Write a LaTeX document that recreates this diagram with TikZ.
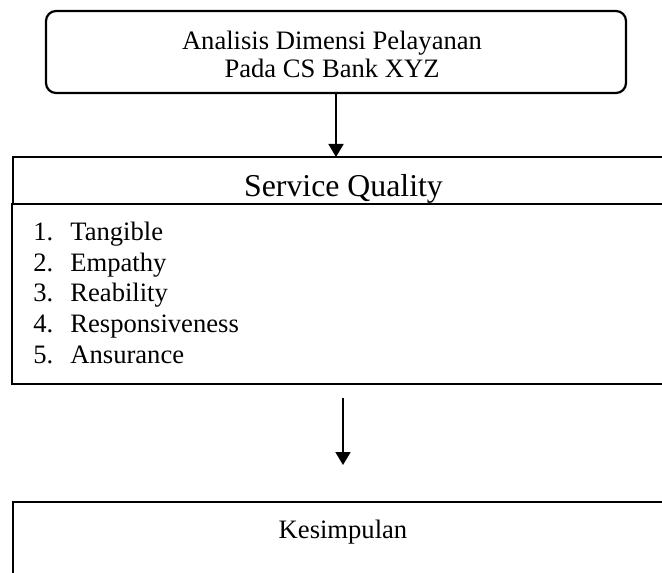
\documentclass[tikz,border=0pt]{standalone}
\usepackage{fontspec}
\setmainfont{Liberation Serif}
\usetikzlibrary{arrows.meta}
\begin{document}
\begin{tikzpicture}[x=0.5pt,y=-0.5pt,
  frame/.style={draw=black,line width=1.1pt,inner sep=0pt,outer sep=0pt},
  txt/.style={inner sep=0pt,font=\fontsize{13.3}{16}\selectfont},
  hdrtxt/.style={inner sep=0pt,font=\fontsize{15.9}{19}\selectfont},
  conn/.style={line width=0.9pt,-{Triangle[length=6.5pt,width=7.5pt]}}]
\useasboundingbox (0,0) rectangle (662,572);
% top rounded box
\node[frame,rounded corners=5pt,minimum width=290pt,minimum height=41pt] (top) at (336,52) {};
\node[txt,anchor=base] (t1) at (332,50) {Analisis Dimensi Pelayanan};
\node[txt,anchor=base] (t2) at (332,78) {Pada CS Bank XYZ};
% header
\node[frame,minimum width=326pt,minimum height=23.5pt] (hdr) at (339,180.5) {};
\node[hdrtxt,anchor=base] (hdrt) at (343.5,196) {Service Quality};
% list box
\node[frame,minimum width=326.5pt,minimum height=90pt] (list) at (338.5,294) {};
\node[txt,anchor=base west] (n1) at (33,240) {1.};
\node[txt,anchor=base west] (i1) at (70,240) {Tangible};
\node[txt,anchor=base west] (n2) at (33,271) {2.};
\node[txt,anchor=base west] (i2) at (70,271) {Empathy};
\node[txt,anchor=base west] (n3) at (33,301) {3.};
\node[txt,anchor=base west] (i3) at (70,301) {Reability};
\node[txt,anchor=base west] (n4) at (33,332) {4.};
\node[txt,anchor=base west] (i4) at (70,332) {Responsiveness};
\node[txt,anchor=base west] (n5) at (33,363) {5.};
\node[txt,anchor=base west] (i5) at (70,363) {Ansurance};
% bottom box
\node[frame,minimum width=326pt,minimum height=39pt] (concl) at (339,541) {};
\node[txt,anchor=base] (kt) at (343,538) {Kesimpulan};
% arrows
\draw[conn] (top.south) -- (top.south |- hdr.north);
\coordinate (a2s) at (343,398);
\coordinate (a2e) at (343,465);
\draw[conn] (a2s) -- (a2e);
\end{tikzpicture}
\end{document}
